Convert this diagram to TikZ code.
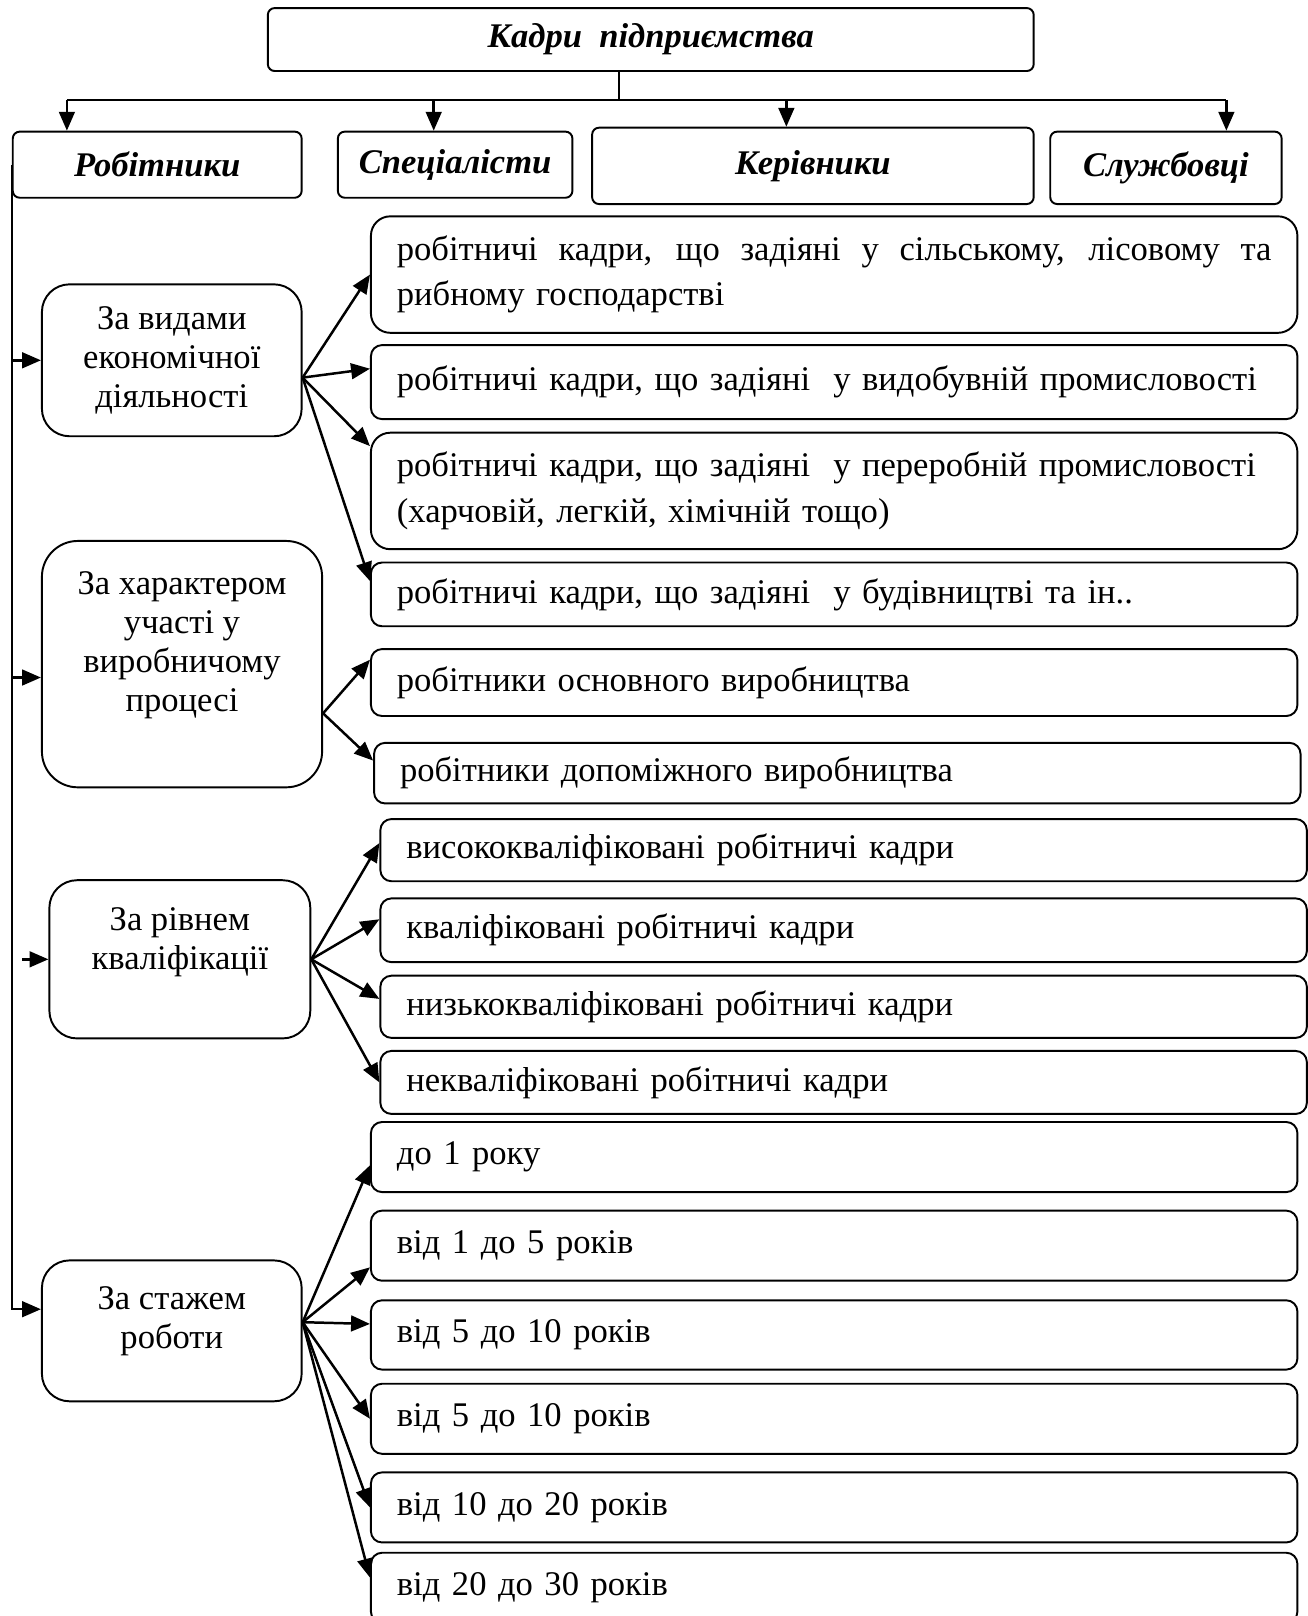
\documentclass[tikz,border=0pt]{standalone}
\usepackage{fontspec}
\setmainfont{Liberation Serif}
\usepackage{tikz}
\usetikzlibrary{arrows.meta,positioning,calc}
\tikzset{
  head/.style={draw,rounded corners=2.5pt,line width=.7pt,inner sep=0pt,anchor=north west,align=center,font=\fontsize{12.5}{15}\selectfont\bfseries\itshape},
  crit/.style={draw,rounded corners=10pt,line width=.7pt,inner sep=0pt,anchor=north west,align=center,font=\fontsize{12.5}{14.1}\selectfont},
  item/.style={draw,rounded corners=4pt,line width=.7pt,anchor=north west,inner xsep=.33cm,inner ysep=0pt,text width=11.11cm,minimum width=11.77cm,align=left,font=\fontsize{12.5}{16.4}\selectfont},
  arr/.style={-{Triangle[length=2.4mm,width=2mm]},line width=.9pt},
  link/.style={line width=.9pt},
}

\begin{document}
\begin{tikzpicture}
    \useasboundingbox (0,0) rectangle (16.61,-20.53);

    \node[head,minimum width=9.73cm,minimum height=.80cm] (kadry) at (3.39,-0.09) {Кадри~ підприємства};

    \node[head,minimum width=3.67cm,minimum height=.84cm] (robit) at (0.15,-1.66) {Робітники};
    \node[head,minimum width=2.98cm,minimum height=.84cm] (spec) at (4.28,-1.66) {Спеціалісти};
    \node[head,minimum width=5.61cm,minimum height=.97cm] (kerivn) at (7.51,-1.61) {Керівники};
    \node[head,minimum width=2.94cm,minimum height=.92cm] (sluzh) at (13.33,-1.66) {Службовці};

    \node[crit,minimum width=3.30cm,minimum height=1.93cm] (vydy) at (0.52,-3.60) {За видами\\економічної\\діяльності};
    \node[crit,minimum width=3.56cm,minimum height=3.13cm,text depth=.57cm,rounded corners=13pt] (kharakter) at (0.52,-6.86) {За характером\\участі у\\виробничому\\процесі};
    \node[crit,minimum width=3.315cm,minimum height=2.01cm,text depth=.53cm] (rivnem) at (0.615,-11.17) {За рівнем\\кваліфікації};
    \node[crit,minimum width=3.30cm,minimum height=1.79cm,text depth=.33cm] (stazh) at (0.52,-16.00) {За стажем\\роботи};

    \node[item,minimum height=1.48cm,rounded corners=7pt] (v1) at (4.70,-2.736) {\makebox[11.11cm][s]{\spaceskip=.25em plus 3em\relax робітничі кадри, що задіяні у сільському, лісовому та}\\рибному господарстві};
    \node[item,minimum height=.94cm] (v2) at (4.70,-4.372) {робітничі кадри, що задіяні~ у видобувній промисловості};
    \node[item,minimum height=1.48cm,rounded corners=7pt] (v3) at (4.70,-5.485) {робітничі кадри, що задіяні~ у переробній промисловості\\(харчовій, легкій, хімічній тощо)};
    \node[item,minimum height=.81cm] (v4) at (4.70,-7.134) {робітничі кадри, що задіяні~ у будівництві та ін..};

    \node[item,minimum height=.85cm] (kh1) at (4.70,-8.234) {робітники основного виробництва};
    \node[item,minimum height=.77cm] (kh2) at (4.74,-9.425) {робітники допоміжного виробництва};

    \node[item,minimum height=.79cm] (r1) at (4.82,-10.393) {висококваліфіковані робітничі кадри};
    \node[item,minimum height=.81cm] (r2) at (4.82,-11.401) {кваліфіковані робітничі кадри};
    \node[item,minimum height=.79cm] (r3) at (4.82,-12.383) {низькокваліфіковані робітничі кадри};
    \node[item,minimum height=.80cm] (r4) at (4.82,-13.339) {некваліфіковані робітничі кадри};

    \node[item,minimum height=.89cm] (s1) at (4.70,-14.242) {до 1 року};
    \node[item,minimum height=.89cm] (s2) at (4.70,-15.368) {від 1 до 5 років};
    \node[item,minimum height=.88cm] (s3) at (4.70,-16.507) {від 5 до 10 років};
    \node[item,minimum height=.89cm] (s4) at (4.70,-17.567) {від 5 до 10 років};
    \node[item,minimum height=.89cm] (s5) at (4.70,-18.693) {від 10 до 20 років};
    \node[item,minimum height=.89cm] (s6) at (4.70,-19.714) {від 20 до 30 років};

    \coordinate (stem) at ([xshift=-.405cm]kadry.south);
    \coordinate (b1) at (0.85,-1.27);
    \coordinate (b2) at (5.51,-1.27);
    \coordinate (b3) at (9.99,-1.27);
    \coordinate (b4) at (15.58,-1.27);
    \draw[link] (stem) -- (stem |- b1);
    \draw[link] (b1) -- (b4);
    \draw[arr] (b1) -- (b1 |- robit.north);
    \draw[arr] (b2) -- (b2 |- spec.north);
    \draw[arr] (b3) -- (b3 |- kerivn.north);
    \draw[arr] (b4) -- (b4 |- sluzh.north);

    \coordinate (st-in) at ($(stazh.west)+(0,.275)$);
    \coordinate (kh-in) at ($(kharakter.west)+(0,-.17)$);
    \coordinate (rv-from) at ($(robit.west |- rivnem.west)+(.13,0)$);
    \draw[arr] (robit.west) |- (st-in);
    \draw[arr] (robit.west |- vydy.west) -- (vydy.west);
    \draw[arr] (robit.west |- kh-in) -- (kh-in);
    \draw[arr] (rv-from) -- (rivnem.west);

    \coordinate (vy-out) at ($(vydy.east)+(0,-.22)$);
    \draw[arr] (vy-out) -- (v1.west);
    \draw[arr] (vy-out) -- ([yshift=.17cm]v2.west);
    \draw[arr] (vy-out) -- ([yshift=.57cm]v3.west);
    \draw[arr] (vy-out) -- ([yshift=.17cm]v4.west);

    \coordinate (kh-out) at ($(kharakter.east)+(0,-.625)$);
    \draw[arr] (kh-out) -- ([yshift=.29cm]kh1.west);
    \draw[arr] (kh-out) -- ([yshift=.16cm]kh2.west);

    \draw[arr] (rivnem.east) -- ([yshift=.09cm]r1.west);
    \draw[arr] (rivnem.east) -- ([yshift=.14cm]r2.west);
    \draw[arr] (rivnem.east) -- ([yshift=.10cm]r3.west);
    \draw[arr] (rivnem.east) -- (r4.west);

    \coordinate (st-out) at ($(stazh.east)+(0,.11)$);
    \draw[arr] (st-out) -- ([yshift=-.105cm]s1.west);
    \draw[arr] (st-out) -- ([yshift=-.275cm]s2.west);
    \draw[arr] (st-out) -- ([yshift=.14cm]s3.west);
    \draw[arr] (st-out) -- (s4.west);
    \draw[arr] (st-out) -- (s5.west);
    \draw[arr] (st-out) -- ([yshift=.13cm]s6.west);
\end{tikzpicture}
\end{document}
